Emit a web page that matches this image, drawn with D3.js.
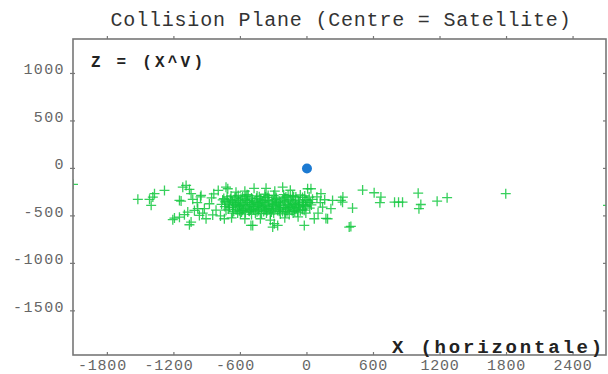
<!DOCTYPE html>
<html>
<head>
<meta charset="utf-8">
<script src="https://cdn.jsdelivr.net/npm/d3@7"></script>
<style>
  html, body { margin: 0; padding: 0; background: #fff; }
  svg { display: block; }
  text { font-family: "Liberation Mono", "DejaVu Sans Mono", monospace; }
</style>
</head>
<body>
<script>
// axis ticks
const xTicks = [-1800, -1200, -600, 0, 600, 1200, 1800, 2400];
const zTicks = [1000, 500, 0, -500, -1000, -1500];

// satellite at the centre
const satellite = [[0, 0]];

// debris crosses, dense core
const corePts = [
  [-620,-285],[-540,-278],[-450,-290],[-380,-272],[-300,-283],[-210,-276],[-130,-288],[-60,-280],
  [-720,-300],[-650,-310],[-580,-302],[-500,-312],[-430,-298],[-360,-308],[-280,-303],[-200,-311],[-120,-299],[-40,-306],[20,-302],
  [-760,-332],[-690,-325],[-620,-335],[-560,-328],[-490,-333],[-420,-326],[-350,-336],[-290,-329],[-220,-331],[-150,-327],[-80,-334],[-10,-330],[50,-325],
  [-740,-352],[-670,-358],[-600,-354],[-540,-360],[-470,-351],[-410,-357],[-340,-353],[-270,-359],[-200,-352],[-140,-356],[-70,-354],[10,-358],
  [-770,-378],[-700,-383],[-630,-376],[-570,-382],[-500,-379],[-440,-385],[-370,-377],[-310,-381],[-240,-384],[-170,-378],[-100,-382],[-30,-379],[40,-384],
  [-740,-402],[-670,-408],[-610,-401],[-540,-406],[-480,-403],[-410,-409],[-350,-400],[-280,-405],[-210,-410],[-150,-403],[-80,-407],[-10,-402],
  [-710,-428],[-640,-433],[-570,-427],[-510,-432],[-440,-429],[-380,-435],[-310,-426],[-250,-431],[-180,-434],[-110,-428],[-40,-432],
  [-660,-452],[-590,-458],[-520,-451],[-450,-457],[-390,-454],[-320,-459],[-250,-452],[-180,-456],[-110,-453],
  [-600,-478],[-500,-484],[-410,-476],[-330,-482],[-240,-479],[-160,-485],
  [-685,-290],[-595,-318],[-515,-342],[-445,-366],[-385,-392],[-325,-418],[-265,-444],[-195,-468],
  [-455,-315],[-395,-340],[-235,-362],[-165,-392],[-95,-418],[-25,-440],[-705,-365],[-645,-392],
  [-585,-418],[-525,-443],[-275,-318],[-105,-342],[-555,-466],[-365,-470],[-125,-470],[-35,-356],
  [-750,-318],[-675,-342],[-615,-366],[-555,-392],[-495,-418],[-435,-444],[-375,-300],[-315,-342],
  [-255,-392],[-195,-418],[-135,-444],[-75,-366],[-15,-392],[25,-418],
  [-730,-440],[-670,-470],[-610,-445],[-550,-295],[-490,-360],[-430,-395],[-370,-420],[-310,-365],
  [-250,-345],[-190,-300],[-130,-372],[-70,-395],[-10,-470],
  [-720,-345],[-660,-380],[-600,-390],[-540,-340],[-480,-430],[-420,-375],[-360,-445],[-300,-395],
  [-240,-415],[-180,-340],[-120,-410],[-60,-445],[0,-340],
  [-700,-410],[-640,-300],[-580,-440],[-520,-375],[-460,-405],[-400,-360],[-340,-430],[-280,-375],
  [-220,-455],[-160,-415],[-100,-300],[-40,-385],[30,-360],
  [-625,-470],[-465,-470],[-300,-470],[-85,-460],[-530,-280],[-350,-285],[-170,-285],[-20,-290]
];

// debris crosses, fringe of the core
const fringePts = [
  [-860,-310],[-880,-372],[-910,-530],[-925,-424],[-820,-440],[-840,-268],[-800,-232],[-730,-197],
  [-714,-214],[-477,-210],[-369,-210],[-219,-197],[-560,-240],[-640,-250],[-290,-240],[-150,-230],
  [6,-214],[36,-214],[126,-266],[141,-407],[216,-424],[231,-337],[186,-530],[66,-530],[-24,-600],
  [-264,-600],[-295,-582],[-309,-618],[-489,-600],[-505,-600],[-745,-530],[-680,-520],[-560,-530],
  [-420,-530],[-330,-545],[-200,-520],[-80,-510],[100,-470],[120,-360],[90,-300],[160,-330],
  [-960,-300],[-990,-360],[-940,-470],[-850,-490],[-780,-500]
];

// debris crosses, sparse left side
const leftPts = [
  [-2110,-168],[-1525,-326],[-1420,-326],[-1390,-302],[-1375,-266],[-1405,-389],[-1285,-232],
  [-1090,-179],[-1060,-221],[-1150,-337],[-1030,-326],[-955,-284],[-985,-424],[-1195,-523],
  [-1150,-513],[-1105,-487],[-1060,-593],[-1075,-460],[-1015,-442],[-970,-495],[-1120,-197],
  [-1045,-266],[-1210,-540],[-1045,-565],[-1135,-344]
];

// debris crosses, sparse right side
const rightPts = [
  [306,-337],[324,-302],[321,-355],[381,-618],[396,-611],[411,-418],[171,-527],[502,-228],
  [606,-256],[667,-302],[658,-361],[790,-355],[826,-355],[862,-355],[1003,-261],[1027,-380],
  [1010,-424],[1174,-345],[1264,-308],[1793,-266],[2715,-390]
];

const debris = corePts.concat(fringePts, leftPts, rightPts);

const W = 608, H = 374;
const plot = { left: 73, top: 39, right: 606, bottom: 355 };

const svg = d3.select('body').append('svg')
  .attr('width', W)
  .attr('height', H);

const x = d3.scaleLinear().domain([-2110, 2697]).range([plot.left, plot.right]);
const y = d3.scaleLinear().domain([1363, -1965]).range([plot.top, plot.bottom]);

svg.append('clipPath').attr('id', 'clip')
  .append('rect')
  .attr('x', plot.left).attr('y', plot.top)
  .attr('width', plot.right - plot.left)
  .attr('height', plot.bottom - plot.top);

// title
svg.append('text')
  .attr('x', 341)
  .attr('y', 26)
  .attr('text-anchor', 'middle')
  .attr('font-size', 20)
  .attr('letter-spacing', 0.8)
  .attr('fill', '#333')
  .text('Collision Plane (Centre = Satellite)');

/** debris crosses */
const g = svg.append('g').attr('clip-path', 'url(#clip)');
g.selectAll('path.deb')
  .data(debris)
  .enter().append('path')
  .attr('class', 'deb')
  .attr('d', d => `M${x(d[0]) - 5},${y(d[1])}h10M${x(d[0])},${y(d[1]) - 5}v10`)
  .attr('stroke', '#14c840')
  .attr('stroke-width', 1.3)
  .attr('stroke-opacity', 0.85)
  .attr('fill', 'none');

g.selectAll('circle.sat')
  .data(satellite)
  .enter().append('circle')
  .attr('class', 'sat')
  .attr('cx', d => x(d[0]))
  .attr('cy', d => y(d[1]))
  .attr('r', 5)
  .attr('fill', '#1c7ad2');

// frame
svg.append('rect')
  .attr('x', plot.left).attr('y', plot.top)
  .attr('width', plot.right - plot.left)
  .attr('height', plot.bottom - plot.top)
  .attr('fill', 'none')
  .attr('stroke', '#777')
  .attr('stroke-width', 1.6);

// ticks
const tk = svg.append('g').attr('stroke', '#777').attr('stroke-width', 1.2);
tk.selectAll('line.top').data(xTicks).enter().append('line')
  .attr('x1', d => x(d)).attr('x2', d => x(d))
  .attr('y1', plot.top - 3).attr('y2', plot.top);
tk.selectAll('line.bot').data(xTicks).enter().append('line')
  .attr('x1', d => x(d)).attr('x2', d => x(d))
  .attr('y1', plot.bottom - 3).attr('y2', plot.bottom);
tk.selectAll('line.lft').data(zTicks).enter().append('line')
  .attr('x1', plot.left - 3).attr('x2', plot.left + 2)
  .attr('y1', d => y(d)).attr('y2', d => y(d));
tk.selectAll('line.rgt').data(zTicks).enter().append('line')
  .attr('x1', plot.right - 3).attr('x2', plot.right)
  .attr('y1', d => y(d)).attr('y2', d => y(d));

// x tick labels: digits centred on the tick, minus sign hangs to the left
svg.selectAll('text.xl')
  .data(xTicks)
  .enter().append('text')
  .attr('class', 'xl')
  .attr('x', d => x(d) + String(Math.abs(d)).length * 9.8 / 2)
  .attr('y', 370)
  .attr('text-anchor', 'end')
  .attr('font-size', 15)
  .attr('letter-spacing', 0.8)
  .attr('fill', '#666')
  .text(d => d < 0 ? '-' + Math.abs(d) : String(d));

svg.selectAll('text.yl')
  .data(zTicks)
  .enter().append('text')
  .attr('class', 'yl')
  .attr('x', 65)
  .attr('y', d => y(d) + 1)
  .attr('text-anchor', 'end')
  .attr('font-size', 15)
  .attr('letter-spacing', 1.4)
  .attr('fill', '#666')
  .text(d => String(d));

// in-plot labels
svg.append('text')
  .attr('x', 91)
  .attr('y', 67)
  .attr('font-size', 16)
  .attr('font-weight', 'bold')
  .attr('letter-spacing', 3.2)
  .attr('fill', '#222')
  .text('Z =  (X^V)');

svg.append('text')
  .attr('x', 392)
  .attr('y', 353)
  .attr('font-size', 19)
  .attr('font-weight', 'bold')
  .attr('letter-spacing', 2.8)
  .attr('fill', '#222')
  .text('X (horizontale)');
</script>
</body>
</html>
